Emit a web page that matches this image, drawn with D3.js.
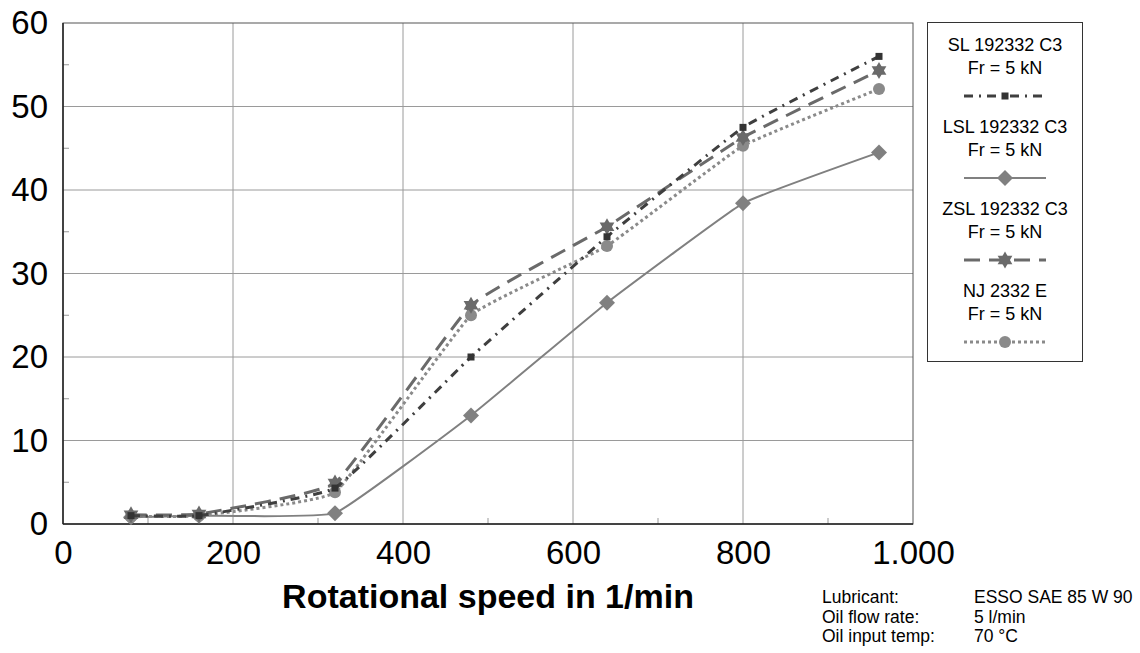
<!DOCTYPE html>
<html>
<head>
<meta charset="utf-8">
<script src="https://cdn.jsdelivr.net/npm/d3@7"></script>
<style>
  body { margin: 0; background: #fff; }
  text { font-family: "Liberation Sans", Arial, sans-serif; }
</style>
</head>
<body>
<div id="main"></div>
<script>
// chart values
const speeds = [80, 160, 320, 480, 640, 800, 960];
const slValues  = [1.0, 1.0, 4.3, 20.0, 34.4, 47.5, 56.0];
const lslValues = [0.8, 1.0, 1.3, 13.0, 26.5, 38.4, 44.5];
const zslValues = [1.1, 1.2, 4.9, 26.2, 35.6, 46.3, 54.3];
const njValues  = [0.9, 1.0, 3.8, 25.0, 33.3, 45.3, 52.1];
const seriesNames = ["SL 192332 C3", "LSL 192332 C3", "ZSL 192332 C3", "NJ 2332 E"];
const loadLabel = "Fr = 5 kN";
const xTicks = [0, 200, 400, 600, 800, 1000];
const yTicks = [0, 10, 20, 30, 40, 50, 60];
const notes = [["Lubricant:", "ESSO SAE 85 W 90"], ["Oil flow rate:", "5 l/min"], ["Oil input temp:", "70 °C"]];

const series = [
  {name: seriesNames[0], values: slValues,  color: "#3f3f3f", width: 3, dash: "9,6,2,6", marker: "square"},
  {name: seriesNames[1], values: lslValues, color: "#808080", width: 2, dash: null, marker: "diamond"},
  {name: seriesNames[2], values: zslValues, color: "#6a6a6a", width: 3, dash: "16,9", marker: "star"},
  {name: seriesNames[3], values: njValues,  color: "#8a8a8a", width: 3, dash: "3,3", marker: "circle"}
];

const W = 1140, H = 653;
const plot = {left: 63, right: 913, top: 23, bottom: 524};

const svg = d3.select("#main").append("svg").attr("width", W).attr("height", H);

const x = d3.scaleLinear().domain([0, 1000]).range([plot.left, plot.right]);
const y = d3.scaleLinear().domain([0, 60]).range([plot.bottom, plot.top]);

// grid
svg.append("g").selectAll("line.gx")
  .data(xTicks.slice(1, -1)).join("line")
  .attr("x1", d => x(d)).attr("x2", d => x(d))
  .attr("y1", plot.top).attr("y2", plot.bottom)
  .attr("stroke", "#9a9a9a").attr("stroke-width", 1);
svg.append("g").selectAll("line.gy")
  .data(yTicks.slice(1, -1)).join("line")
  .attr("x1", plot.left).attr("x2", plot.right)
  .attr("y1", d => y(d)).attr("y2", d => y(d))
  .attr("stroke", "#9a9a9a").attr("stroke-width", 1);

// minor ticks
svg.append("g").selectAll("line")
  .data(d3.range(5, 60, 10)).join("line")
  .attr("x1", plot.left).attr("x2", plot.left + 6)
  .attr("y1", d => y(d)).attr("y2", d => y(d))
  .attr("stroke", "#999");
svg.append("g").selectAll("line")
  .data(d3.range(100, 1000, 200)).join("line")
  .attr("x1", d => x(d)).attr("x2", d => x(d))
  .attr("y1", plot.bottom).attr("y2", plot.bottom - 6)
  .attr("stroke", "#999");

// frame
svg.append("rect")
  .attr("x", plot.left).attr("y", plot.top)
  .attr("width", plot.right - plot.left).attr("height", plot.bottom - plot.top)
  .attr("fill", "none").attr("stroke", "#555").attr("stroke-width", 1);
svg.append("line")
  .attr("x1", plot.left).attr("x2", plot.left).attr("y1", plot.top).attr("y2", plot.bottom)
  .attr("stroke", "#222").attr("stroke-width", 1.5);
svg.append("line")
  .attr("x1", plot.left).attr("x2", plot.right).attr("y1", plot.bottom).attr("y2", plot.bottom)
  .attr("stroke", "#222").attr("stroke-width", 1.5);

// axes labels via d3 axes, styled
const xAxis = svg.append("g")
  .attr("transform", `translate(0,${plot.bottom})`)
  .call(d3.axisBottom(x).tickValues(xTicks).tickSize(0).tickPadding(17)
    .tickFormat(d => d === 1000 ? "1.000" : d3.format("d")(d)));
xAxis.select(".domain").remove();
xAxis.selectAll("text").attr("font-size", 33).attr("fill", "#000")
  .attr("font-family", "Liberation Sans, Arial, sans-serif");

const yAxis = svg.append("g")
  .attr("transform", `translate(${plot.left},0)`)
  .call(d3.axisLeft(y).tickValues(yTicks).tickSize(0).tickPadding(15));
yAxis.select(".domain").remove();
yAxis.selectAll("text").attr("font-size", 33).attr("fill", "#000")
  .attr("font-family", "Liberation Sans, Arial, sans-serif");

svg.append("text")
  .attr("x", 488).attr("y", 608)
  .attr("text-anchor", "middle")
  .attr("font-size", 34).attr("font-weight", "bold")
  .text("Rotational speed in 1/min");

// markers
function drawMarker(g, type, cx, cy, color) {
  if (type === "square") {
    g.append("rect").attr("x", cx - 3.5).attr("y", cy - 3.5).attr("width", 7).attr("height", 7).attr("fill", "#333");
  } else if (type === "diamond") {
    g.append("path").attr("d", `M${cx},${cy - 8}L${cx + 8},${cy}L${cx},${cy + 8}L${cx - 8},${cy}Z`).attr("fill", color);
  } else if (type === "star") {
    const r = 8.5;
    const tri = a => d3.range(3).map(i => {
      const ang = a + i * 2 * Math.PI / 3;
      return [cx + r * Math.cos(ang), cy + r * Math.sin(ang)];
    });
    g.append("path").attr("d", "M" + tri(-Math.PI / 2).join("L") + "Z").attr("fill", color);
    g.append("path").attr("d", "M" + tri(Math.PI / 2).join("L") + "Z").attr("fill", color);
  } else if (type === "circle") {
    g.append("circle").attr("cx", cx).attr("cy", cy).attr("r", 6).attr("fill", color);
  }
}

const line = d3.line()
  .x((d, i) => x(speeds[i]))
  .y(d => y(d))
  .curve(d3.curveCardinal.tension(0.7));

const drawOrder = [1, 3, 2, 0];
drawOrder.forEach(k => {
  const s = series[k];
  const g = svg.append("g");
  g.append("path")
    .attr("d", line(s.values))
    .attr("fill", "none")
    .attr("stroke", s.color)
    .attr("stroke-width", s.width)
    .attr("stroke-dasharray", s.dash);
  s.values.forEach((v, i) => drawMarker(g, s.marker, x(speeds[i]), y(v), s.color));
});

// legend
const lg = svg.append("g");
lg.append("rect")
  .attr("x", 927.5).attr("y", 22.5).attr("width", 155).attr("height", 339)
  .attr("fill", "#fff").attr("stroke", "#333").attr("stroke-width", 1);
series.forEach((s, i) => {
  const top = 27 + i * 82;
  const cx = 1005;
  lg.append("text").attr("x", cx).attr("y", top + 24).attr("text-anchor", "middle")
    .attr("font-size", 18).text(s.name);
  lg.append("text").attr("x", cx).attr("y", top + 47).attr("text-anchor", "middle")
    .attr("font-size", 18).text(loadLabel);
  const ly = top + 69;
  lg.append("line")
    .attr("x1", cx - 41).attr("x2", cx + 41).attr("y1", ly).attr("y2", ly)
    .attr("stroke", s.color).attr("stroke-width", s.width)
    .attr("stroke-dasharray", s.dash);
  drawMarker(lg, s.marker, cx, ly, s.color);
});

// test conditions
const ng = svg.append("g");
notes.forEach((n, i) => {
  ng.append("text").attr("x", 822).attr("y", 603 + i * 19.5).attr("font-size", 17.5).text(n[0]);
  ng.append("text").attr("x", 974).attr("y", 603 + i * 19.5).attr("font-size", 17.5).text(n[1]);
});
</script>
</body>
</html>
